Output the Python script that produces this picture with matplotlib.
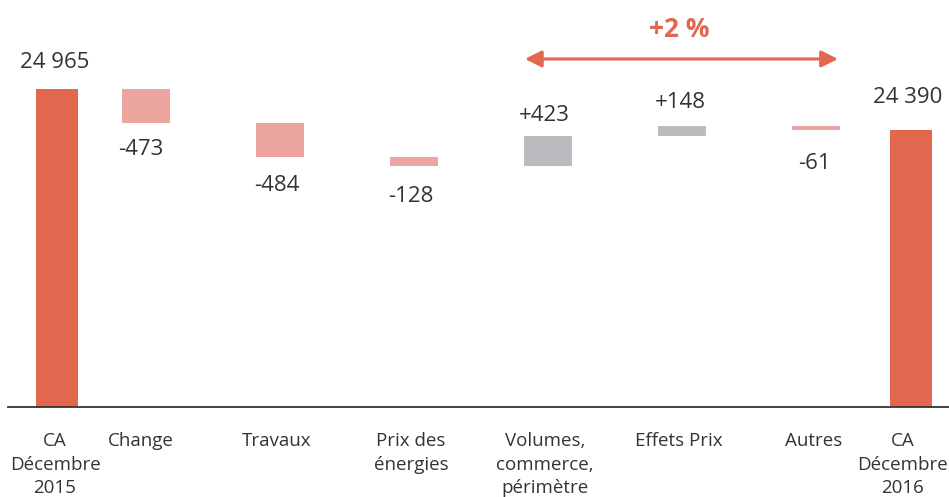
import matplotlib
matplotlib.use('Agg')
import matplotlib.pyplot as plt

# --- données ---
categories = ['CA\nDécembre\n2015', 'Change', 'Travaux', 'Prix des\nénergies',
              'Volumes,\ncommerce,\npérimètre', 'Effets Prix', 'Autres', 'CA\nDécembre\n2016']
ca_2015 = 24965
variations = [-473, -484, -128, 423, 148, -61]
ca_2016 = 24390
value_labels = ['24 965', '-473', '-484', '-128', '+423', '+148', '-61', '24 390']
growth_label = '+2 %'

# --- mise en page ---
positions = [-0.664, 0, 1, 2, 3, 4, 5, 5.709]
main_width = 0.313
step_width = 0.358
y_floor = 20505
label_gap = [19, 19.5, 20.5, 21.5, 15, 16.5, 24, 23.5]  # points entre barre et étiquette
value_shift = [-2, -5, -3, -3, -4, -2, -2, -3]  # décalage horizontal des valeurs (px)
tick_shift = [-2, -5, -3, -3, -3, -3, -2, -8]   # décalage horizontal des libellés (px)

c_main = '#e2674f'
c_neg = '#eda59f'
c_pos = '#bcbcc0'
c_text = '#333333'

plt.rcParams['font.family'] = ['Open Sans', 'DejaVu Sans']

fig = plt.figure(figsize=(9.49, 4.97), dpi=100)
ax = fig.add_axes([8 / 949, 1 - 407 / 497, 941 / 949, 407 / 497])

# barres de départ et d'arrivée
ax.bar(positions[0], ca_2015 - y_floor, bottom=y_floor, width=main_width, color=c_main)
ax.bar(positions[-1], ca_2016 - y_floor, bottom=y_floor, width=main_width, color=c_main)

# barres flottantes
level = ca_2015
tops = [ca_2015]
bottoms = [ca_2015]
for i, v in enumerate(variations):
    start = level
    level = level + v
    color = c_pos if v > 0 else c_neg
    ax.bar(positions[i + 1], v, bottom=start, width=step_width, color=color)
    tops.append(max(start, level))
    bottoms.append(min(start, level))
tops.append(ca_2016)
bottoms.append(ca_2016)

# étiquettes de valeur
for i, lab in enumerate(value_labels):
    dx = value_shift[i] * 0.72
    if lab.startswith('-'):
        ax.annotate(lab, (positions[i], bottoms[i]), xytext=(dx, -label_gap[i]),
                    textcoords='offset points', ha='center', va='center',
                    fontsize=16, color=c_text)
    else:
        ax.annotate(lab, (positions[i], tops[i]), xytext=(dx, label_gap[i]),
                    textcoords='offset points', ha='center', va='center',
                    fontsize=16, color=c_text)

# libellés des catégories sous l'axe
for i, cat in enumerate(categories):
    ax.annotate(cat, (positions[i], 0), xycoords=('data', 'axes fraction'),
                xytext=(tick_shift[i] * 0.72, -18), textcoords='offset points',
                ha='center', va='top', fontsize=13.5, color=c_text, linespacing=1.4,
                annotation_clip=False)

# flèche +2 %
ax.annotate('', xy=(5.164, 25386), xytext=(2.828, 25386),
            arrowprops=dict(arrowstyle='<|-|>,head_length=1.0,head_width=0.5', color=c_main,
                            lw=2.2, shrinkA=0, shrinkB=0))
ax.text(3.98, 25800, growth_label, ha='center', va='center', fontsize=19,
        fontweight='bold', color=c_main)

ax.set_xlim(-1.03, 5.993)
ax.set_ylim(y_floor, 26213)
ax.set_xticks([])
ax.set_yticks([])
for s in ['top', 'right', 'left']:
    ax.spines[s].set_visible(False)
ax.spines['bottom'].set_color(c_text)
ax.spines['bottom'].set_linewidth(1.3)
ax.patch.set_alpha(0)

fig.savefig('out.png', dpi=100)
